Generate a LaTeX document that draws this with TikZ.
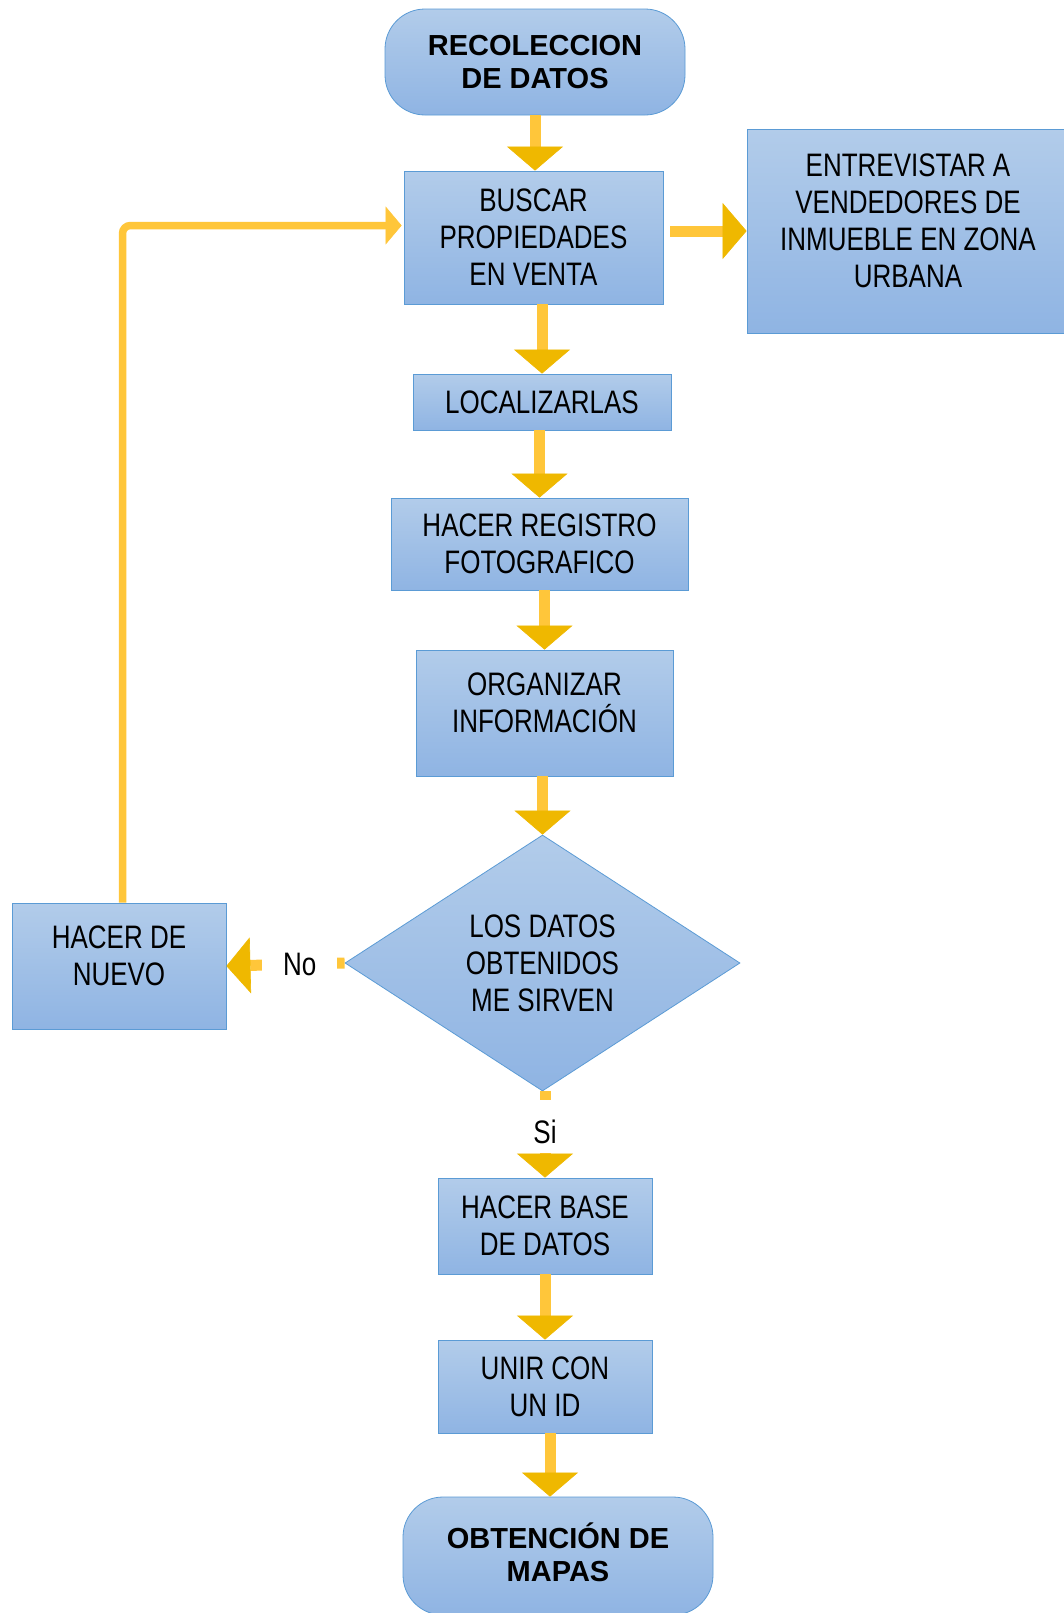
\documentclass[tikz,border=0pt]{standalone}
\usepackage{fontspec}
\setmainfont[FakeStretch=0.80]{Liberation Sans}
\newfontfamily\titlefont{Liberation Sans}
\usepackage{tikz}
\usetikzlibrary{arrows.meta,shapes.geometric,shadings}
\definecolor{boxtop}{HTML}{B2CCEA}
\definecolor{boxbot}{HTML}{8FB4E3}
\definecolor{boxline}{HTML}{5B9BD5}
\definecolor{shaftgold}{HTML}{FFC63A}
\definecolor{headgold}{HTML}{EFB800}

\begin{document}
\begin{tikzpicture}[line join=miter,
  procbox/.style={rectangle,
                  draw=boxline,line width=0.8bp,
                  top color=boxtop,bottom color=boxbot,
                  inner sep=0pt,align=center,
                  font=\fontsize{32.5bp}{37bp}\selectfont},
  endbox/.style={procbox,rounded corners=40bp,
                 font=\titlefont\bfseries\fontsize{29bp}{33.5bp}\selectfont},
  askbox/.style={procbox,diamond,
                 minimum width=395bp,minimum height=256bp},
  raised/.style={text depth=#1},
  flowarrow/.style={draw=shaftgold,line width=11bp,
                    -{Triangle[width=56bp,length=24bp,line width=0.6bp,color=headgold]}},
  backarrow/.style={draw=shaftgold,line width=7.5bp,rounded corners=8bp,
                    -{Triangle[width=38bp,length=16bp,line width=0.6bp,color=shaftgold]}},
  answer/.style={fill=white,inner sep=0pt,
                 font=\fontsize{32.5bp}{37bp}\selectfont},
  ]
%%
\useasboundingbox (0bp,0bp) rectangle (1064bp,-1613bp);
\clip (0bp,0bp) rectangle (1064bp,-1613bp);
\fill[white] (0bp,0bp) rectangle (1064bp,-1613bp);

  \node (rec) at (535bp,-62bp) [endbox,minimum width=300bp,minimum height=106bp] {RECOLECCION\\DE DATOS};
  \node (buscar) at (533.5bp,-237.5bp) [procbox,minimum width=259bp,minimum height=133bp] {BUSCAR\\PROPIEDADES\\EN VENTA};
  \node (entrev) at (908bp,-231bp) [procbox,raised=20bp,minimum width=322bp,minimum height=204bp] {ENTREVISTAR A\\VENDEDORES DE\\INMUEBLE EN ZONA\\URBANA};
  \node (loc) at (542bp,-402bp) [procbox,minimum width=258bp,minimum height=56bp] {LOCALIZARLAS};
  \node (reg) at (539.5bp,-544bp) [procbox,minimum width=297bp,minimum height=92bp] {HACER REGISTRO\\FOTOGRAFICO};
  \node (org) at (544.5bp,-713bp) [procbox,raised=20bp,minimum width=257bp,minimum height=126bp] {ORGANIZAR\\INFORMACIÓN};
  \node (dec) at (542.5bp,-963bp) [askbox] {LOS DATOS\\OBTENIDOS\\ME SIRVEN};
  \node (nuevo) at (119bp,-966bp) [procbox,raised=20bp,minimum width=214bp,minimum height=126bp] {HACER DE\\NUEVO};
  \node (base) at (545bp,-1226bp) [procbox,minimum width=214bp,minimum height=96bp] {HACER BASE\\DE DATOS};
  \node (unir) at (545bp,-1386.5bp) [procbox,minimum width=214bp,minimum height=93bp] {UNIR CON\\UN ID};
  \node (obt) at (558bp,-1556bp) [endbox,raised=8bp,minimum width=310bp,minimum height=118bp] {OBTENCIÓN DE\\MAPAS};

  \draw [flowarrow] (rec.south) -- (rec.south |- buscar.north);
  \draw [flowarrow] ([xshift=7bp]buscar.east |- entrev.west) -- (entrev.west);
  \draw [flowarrow] (loc.north |- buscar.south) -- (loc.north);
  \draw [flowarrow] (reg.north |- loc.south) -- (reg.north);
  \draw [flowarrow] (org.north |- reg.south) -- (org.north);
  \draw [flowarrow] (dec.north |- org.south) -- (dec.north);
  \draw [flowarrow] (dec.west) -- (nuevo.east)
    node[answer,pos=0.38,minimum width=75bp,minimum height=40bp] {No};
  \draw [flowarrow] (base.north |- dec.south) -- (base.north)
    node[answer,pos=0.41,text height=34bp,text depth=0bp,minimum width=50bp,minimum height=53bp] {Si};
  \draw [flowarrow] (base.south) -- (unir.north);
  \draw [flowarrow] ([xshift=5bp]unir.south) -- ([xshift=5bp]unir.south |- obt.north);
  \draw [backarrow] ([xshift=3.5bp]nuevo.north) |- ([xshift=-2bp,yshift=12bp]buscar.west);
%
\end{tikzpicture}
\end{document}
